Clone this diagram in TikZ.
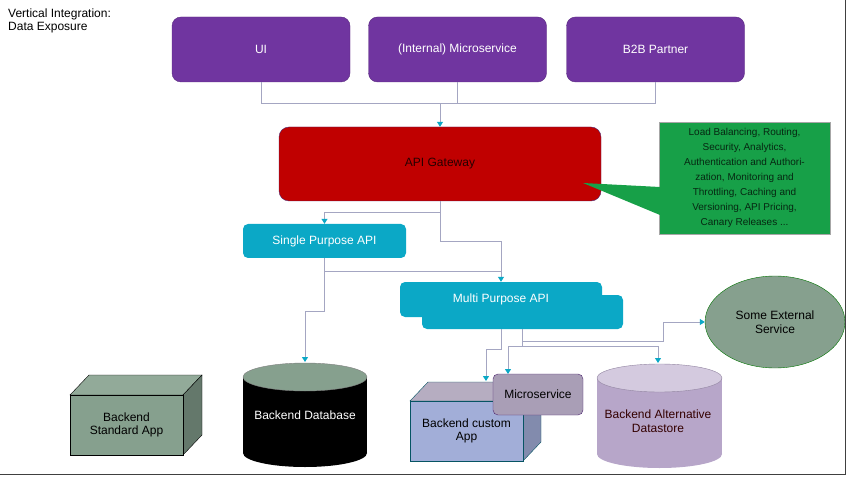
\documentclass[tikz,border=0pt]{standalone}
\usepackage{fontspec}
\setmainfont{Liberation Sans}
\usetikzlibrary{arrows.meta,shapes.geometric}
\definecolor{clientpurple}{HTML}{7035A0}
\definecolor{gatewayred}{HTML}{C00000}
\definecolor{calloutgreen}{HTML}{17A048}
\definecolor{apicyan}{HTML}{0BA8C6}
\definecolor{legacygreen}{HTML}{86A08E}
\definecolor{storelilac}{HTML}{B7A6C9}
\definecolor{customblue}{HTML}{A2AED8}
\definecolor{microgray}{HTML}{A99EB6}
\definecolor{linkgray}{HTML}{A4A6C2}

\begin{document}
\begin{tikzpicture}[x=1pt,y=-1pt,
    every node/.style={font=\fontsize{12}{13.5}\selectfont},
    client/.style={draw=clientpurple!80!black,fill=clientpurple,rounded corners=9pt,
        minimum width=178pt,minimum height=65pt,inner sep=0pt,text=white},
    apibox/.style={fill=apicyan,rounded corners=5pt,inner sep=0pt,text=white},
    link/.style={draw=linkgray,line width=1pt},
    tip/.style={-{Triangle[length=5pt,width=6pt,color=apicyan]}}]

    \useasboundingbox (0,0) rectangle (848,478);

    %title
    \node[anchor=north west,align=left,inner sep=0pt] (title) at (8,8.5) {Vertical Integration:\\Data Exposure};

    %consumers
    \node[client] (ui) at (261,49.5) {UI};
    \node[client] (intms) at (457.5,49.5) {(Internal) Microservice};
    \node[client] (b2b) at (655.5,49.5) {B2B Partner};

    %gateway
    \node[draw=clientpurple!70!black,fill=gatewayred,rounded corners=10pt,
        minimum width=322pt,minimum height=74pt,inner sep=0pt,text=gatewayred!20!black] (gw) at (440,164) {API Gateway};

    %callout
    \node[draw=gray!70,fill=calloutgreen,minimum width=171pt,minimum height=112pt,inner sep=0pt,
        align=center,text=calloutgreen!25!black,font=\fontsize{10}{15}\selectfont] (note) at (744.5,178)
        {Load Balancing, Routing,\\Security, Analytics,\\Authentication and Authori-\\zation, Monitoring and\\Throttling, Caching and\\Versioning, API Pricing,\\Canary Releases ...};
    \coordinate (notetip) at (583,183);
    \fill[calloutgreen] (notetip) -- (660,187) -- (660,215) -- cycle;

    %apis
    \node[apibox,minimum width=163pt,minimum height=34pt] (single) at (324.5,241) {Single Purpose API};
    \node[apibox,minimum width=201pt,minimum height=34pt] (multiback) at (522.5,312) {};
    \node[apibox,minimum width=202pt,minimum height=35pt] (multi) at (501,299.5) {Multi Purpose API};

    %backend standard app
    \fill[legacygreen!90!white,draw=black] (70,395) -- (89,375) -- (202,375) -- (183,395) -- cycle;
    \fill[legacygreen!75!black,draw=black] (183,395) -- (202,375) -- (202,435) -- (183,455) -- cycle;
    \node[draw=black,fill=legacygreen,minimum width=113pt,minimum height=60pt,inner sep=0pt,align=center] (stdapp) at (126.5,425) {Backend\\Standard App};

    %backend database
    \fill[black] (243,377) rectangle (367,453);
    \fill[black] (305,453) ellipse (62 and 14);
    \fill[legacygreen,draw=gray] (305,377) ellipse (62 and 14);
    \node[text=white] (db) at (305,415) {Backend Database};
    \coordinate (dbtop) at (305,362);

    %backend custom app
    \fill[microgray!85!white,draw=apicyan!50!black] (410,401) -- (428,382) -- (541,382) -- (523,401) -- cycle;
    \fill[customblue!80!black,draw=apicyan!50!black] (523,401) -- (541,382) -- (541,442) -- (523,461) -- cycle;
    \node[draw=apicyan!50!black,fill=customblue,minimum width=113pt,minimum height=60pt,inner sep=0pt,align=center] (custapp) at (466.5,431) {Backend custom\\App};
    \coordinate (apptop) at (486,381);

    %microservice
    \node[draw=clientpurple!70!black,fill=microgray,rounded corners=5pt,minimum width=90pt,minimum height=41pt,inner sep=0pt] (micro) at (538,394.5) {Microservice};
    \coordinate (microtop) at (508,374);

    %alternative datastore
    \fill[storelilac] (597,378) rectangle (722,454);
    \fill[storelilac] (659.5,454) ellipse (62.5 and 14);
    \fill[storelilac!60!white,draw=storelilac!80!black] (659.5,378) ellipse (62.5 and 14);
    \node[align=center,text=black!80!red] (store) at (658,421) {Backend Alternative\\Datastore};
    \coordinate (storetop) at (658,363);

    %external service
    \node[ellipse,draw=green!45!black,fill=legacygreen,minimum width=140pt,minimum height=92pt,inner sep=0pt,align=center] (ext) at (775,322) {Some External\\Service};

    %consumers to gateway
    \coordinate (hub) at (440,104);
    \draw[link] (ui.south) |- (hub);
    \draw[link] (intms.south) |- (hub);
    \draw[link] (b2b.south) |- (hub);
    \draw[link,tip] (hub) -- (gw.north);

    %gateway to apis
    \coordinate (gwsplit) at (440,213);
    \coordinate (gwdrop) at (440,242);
    \draw[link,tip] (gw.south) -- (gwsplit) -| (single.north);
    \draw[link,tip] (gwsplit) -- (gwdrop) -| (multi.north);

    %single purpose api
    \coordinate (sjoin) at (501,271);
    \coordinate (dbjog) at (305,311);
    \draw[link] (single.south |- sjoin) -- (sjoin);
    \draw[link,tip] (single.south) |- (dbjog) -- (dbtop);

    %multi purpose api
    \coordinate (m1) at (486,349);
    \coordinate (m2) at (663,341);
    \coordinate (m3) at (522.5,346);
    \draw[link,tip] (multi.south |- multiback.south) |- (m1) -- (apptop);
    \draw[link,tip] (multiback.south) |- (m2) |- (ext.west);
    \draw[link] (multiback.south) -- (m3);
    \draw[link,tip] (m3) -| (microtop);
    \draw[link,tip] (m3) -| (storetop);

    %frame
    \draw[black!75,line width=1.5pt] (845.5,0) -- (845.5,474.5) -- (0,474.5);
\end{tikzpicture}
\end{document}
